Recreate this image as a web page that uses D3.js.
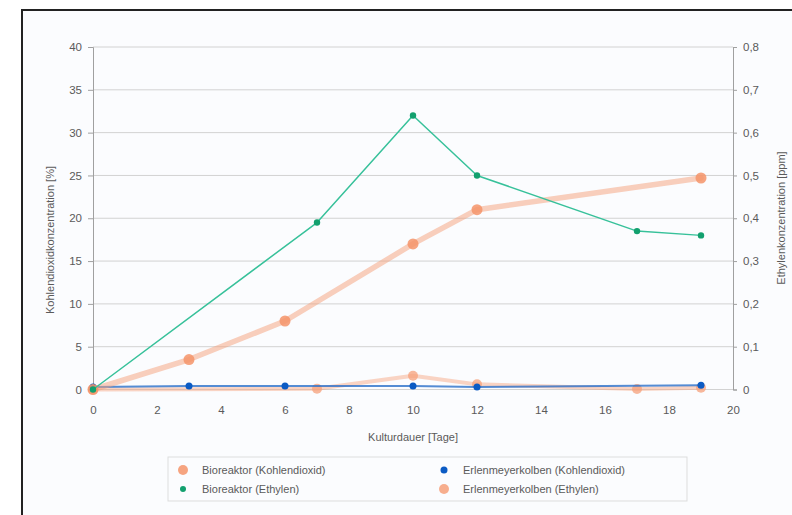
<!DOCTYPE html>
<html><head><meta charset="utf-8">
<script src="https://cdn.jsdelivr.net/npm/d3@7"></script>
<style>
html,body{margin:0;padding:0;background:#fff;}
svg{display:block;font-family:"Liberation Sans",Arial,sans-serif;}
</style></head><body>
<svg id="c" width="792" height="515"></svg>
<script>
// ---- data ----
const xTicks = [0,2,4,6,8,10,12,14,16,18,20];
const leftTicks = [0,5,10,15,20,25,30,35,40];
const rightTicks = [0,0.1,0.2,0.3,0.4,0.5,0.6,0.7,0.8];

const bioCO2Days = [0,3,6,10,12,19];
const bioCO2Vals = [0,3.5,8,17,21,24.7];

const bioEthDays = [0,7,10,12,17,19];
const bioEthVals = [0,0.39,0.64,0.5,0.37,0.36];

const erlCO2Days = [0,3,6,10,12,19];
const erlCO2Vals = [0.3,0.4,0.4,0.4,0.3,0.5];

const erlEthDays = [0,7,10,12,17,19];
const erlEthVals = [0,0.002,0.032,0.012,0.001,0.004];

const legendLabels = ["Bioreaktor (Kohlendioxid)","Bioreaktor (Ethylen)","Erlenmeyerkolben (Kohlendioxid)","Erlenmeyerkolben (Ethylen)"];

// ---- layout ----
const svg = d3.select("#c");
const L=93, R=733, T=47, B=389.5;
const x = d3.scaleLinear().domain([0,20]).range([L,R]);
const yl = d3.scaleLinear().domain([0,40]).range([B,T]);
const yr = d3.scaleLinear().domain([0,0.8]).range([B,T]);
const txt = "#5a5a5a";

// frame
svg.append("rect").attr("x",22).attr("y",10).attr("width",800).attr("height",520)
  .attr("fill","#fbfcfe").attr("stroke","#222").attr("stroke-width",2);

// gridlines
svg.append("g").selectAll("line").data(leftTicks).join("line")
  .attr("x1",L).attr("x2",R).attr("y1",d=>yl(d)).attr("y2",d=>yl(d))
  .attr("stroke","#d2d2d2").attr("stroke-width",1);

// axes
const fmtR = d=> d===0 ? "0" : d3.format(".1f")(d).replace(".",",");
const gl = svg.append("g").attr("transform",`translate(${L},0)`)
  .call(d3.axisLeft(yl).tickValues(leftTicks).tickSize(5).tickPadding(6));
const gr = svg.append("g").attr("transform",`translate(${R},0)`)
  .call(d3.axisRight(yr).tickValues(rightTicks).tickFormat(fmtR).tickSize(4).tickPadding(6));
const gx = svg.append("g").attr("transform",`translate(0,${B})`)
  .call(d3.axisBottom(x).tickValues(xTicks).tickSize(0).tickPadding(16));
[gl,gr,gx].forEach(g=>{
  g.selectAll("path.domain").attr("stroke","#a0a0a0");
  g.selectAll(".tick line").attr("stroke","#a0a0a0");
  g.selectAll("text").attr("fill",txt).attr("font-size",11.5).attr("font-family","Liberation Sans, Arial, sans-serif");
});
gx.select("path.domain").remove();

// axis titles
svg.append("text").attr("x",413).attr("y",441).attr("text-anchor","middle")
  .attr("fill",txt).attr("font-size",11).text("Kulturdauer [Tage]");
svg.append("text").attr("transform","translate(54,240) rotate(-90)").attr("text-anchor","middle")
  .attr("fill",txt).attr("font-size",11).text("Kohlendioxidkonzentration [%]");
svg.append("text").attr("transform","translate(785,218) rotate(-90)").attr("text-anchor","middle")
  .attr("fill",txt).attr("font-size",11).text("Ethylenkonzentration [ppm]");

// series
const mk = (days, vals, ys) => days.map((d,i)=>({d, v: vals[i], ys}));
const lineGen = d3.line().x(p=>x(p.d)).y(p=>p.ys(p.v));

const series = [
  {pts: mk(erlEthDays, erlEthVals, yr), color:"#f7a27c", w:4, op:0.45, r:5, mc:"#f6a07a", mop:0.75},
  {pts: mk(erlCO2Days, erlCO2Vals, yl), color:"#2a6fc9", w:2, op:0.8, r:3.5, mc:"#0b5bc4", mop:1},
  {pts: mk(bioCO2Days, bioCO2Vals, yl), color:"#f6a07a", w:5.5, op:0.5, r:5.5, mc:"#f5946a", mop:0.85},
  {pts: mk(bioEthDays, bioEthVals, yr), color:"#37c19a", w:1.5, op:1, r:3.2, mc:"#12a06e", mop:1},
];
series.forEach(s=>{
  svg.append("path").datum(s.pts).attr("d",lineGen).attr("fill","none")
    .attr("stroke",s.color).attr("stroke-width",s.w).attr("stroke-opacity",s.op)
    .attr("stroke-linejoin","round").attr("stroke-linecap","round");
  svg.append("g").selectAll("circle").data(s.pts).join("circle")
    .attr("cx",p=>x(p.d)).attr("cy",p=>p.ys(p.v)).attr("r",s.r)
    .attr("fill",s.mc).attr("fill-opacity",s.mop);
});

// legend
svg.append("rect").attr("x",168).attr("y",457).attr("width",519).attr("height",44)
  .attr("fill","none").attr("stroke","#ddd");
const leg = [
  {label:legendLabels[0], x:183, y:470, c:"#f5946a", r:5, op:0.85},
  {label:legendLabels[1], x:183, y:489, c:"#12a06e", r:3, op:1},
  {label:legendLabels[2], x:444, y:470, c:"#0b5bc4", r:3.5, op:1},
  {label:legendLabels[3], x:444, y:489, c:"#f6a07a", r:5, op:0.85},
];
const lg = svg.append("g").selectAll("g").data(leg).join("g");
lg.append("circle").attr("cx",d=>d.x).attr("cy",d=>d.y).attr("r",d=>d.r).attr("fill",d=>d.c).attr("fill-opacity",d=>d.op);
lg.append("text").attr("x",d=>d.x+19).attr("y",d=>d.y+4).attr("fill",txt).attr("font-size",11).text(d=>d.label);
</script>
</body></html>
